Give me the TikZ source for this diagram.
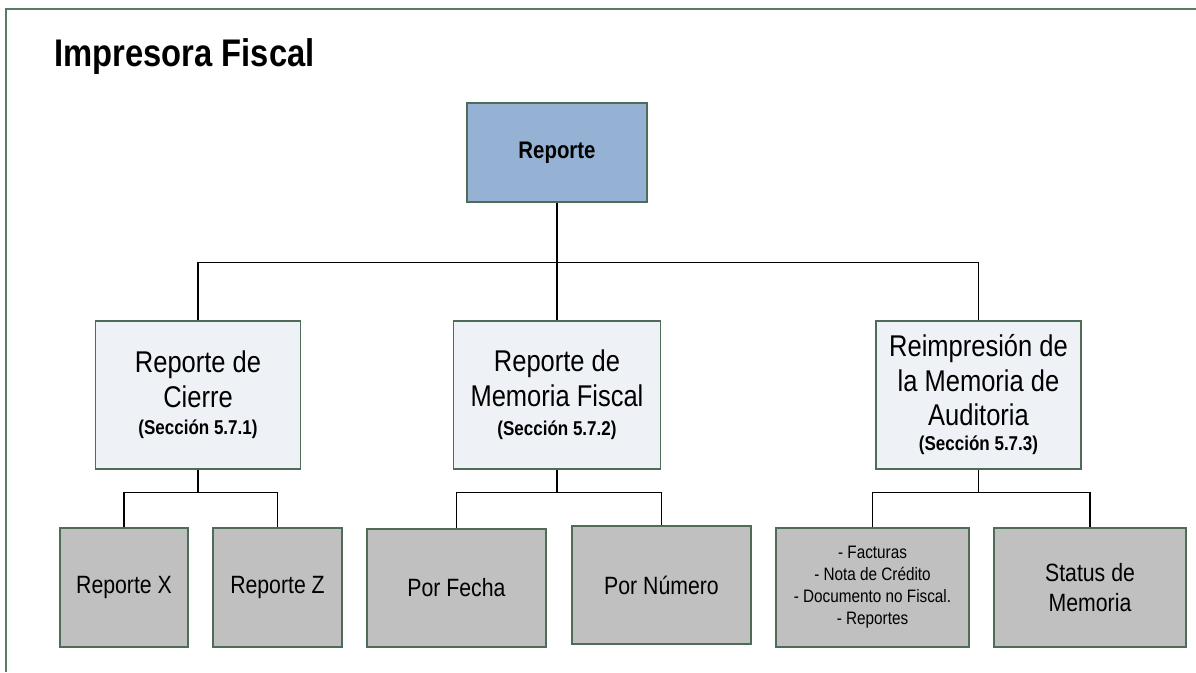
\documentclass[tikz,border=0pt]{standalone}
\usepackage{fontspec}
\setmainfont{Liberation Sans}[FakeStretch=0.85]
\usetikzlibrary{calc}

\definecolor{marco}{RGB}{90,122,100}
\definecolor{borde}{RGB}{78,108,88}
\definecolor{azulraiz}{RGB}{149,178,212}
\definecolor{grisclaro}{RGB}{238,241,246}
\definecolor{gris}{RGB}{192,192,192}

\tikzset{
  caja/.style={draw=borde, line width=1.3pt, align=center, inner sep=0pt, text=black},
  raiz/.style={caja, fill=azulraiz, minimum width=180pt, minimum height=99pt,
    font=\bfseries\fontsize{24}{28}\selectfont},
  seccion/.style={caja, fill=grisclaro, minimum width=205pt, minimum height=148pt,
    font=\fontsize{30}{35}\selectfont},
  hoja/.style={caja, fill=gris, minimum height=119pt,
    font=\fontsize{25}{30}\selectfont},
  rama/.style={draw=black, line width=1.2pt}
}
\newcommand{\secnum}[1]{{\bfseries\fontsize{20}{24}\selectfont (Sección #1)}}

\begin{document}
\begin{tikzpicture}[x=1pt,y=-1pt]
  \useasboundingbox (0,0) rectangle (1196,672);
  \draw[marco, line width=2pt] (1196,9) -- (6,9) -- (6,672);

  \node[anchor=base west, font=\bfseries\fontsize{38.5}{44}\selectfont] (titulo) at (51,66) {Impresora Fiscal};

  % nivel superior
  \node[raiz] (reporte) at (557,152.5) {Reporte};

  % secciones
  \node[seccion] (cierre) at (198,395) {Reporte de\\Cierre\\[-8pt]\secnum{5.7.1}};
  \node[seccion, minimum width=207pt] (memfiscal) at (557,395) {Reporte de\\Memoria Fiscal\\[-6pt]\secnum{5.7.2}};
  \node[seccion] (reimpresion) at (978.5,395) {Reimpresión de\\la Memoria de\\[-1pt]Auditoria\\[-10pt]\secnum{5.7.3}};

  % hojas
  \node[hoja, minimum width=128pt] (repx) at (124,587.5) {Reporte X};
  \node[hoja, minimum width=129pt] (repz) at (277.5,587.5) {Reporte Z};
  \node[hoja, minimum width=179pt, minimum height=118pt] (porfecha) at (456.5,588) {Por Fecha};
  \node[hoja, minimum width=179pt, minimum height=118pt] (pornumero) at (661.5,585) {Por Número};
  \node[hoja, minimum width=193pt, font=\fontsize{18}{22}\selectfont] (docs) at (872.5,587.5)
    {- Facturas\\- Nota de Crédito\\- Documento no Fiscal.\\- Reportes};
  \node[hoja, minimum width=192pt] (status) at (1090,587.5) {Status de\\Memoria};

  % conectores
  \draw[rama] (reporte.south) -- ++(0,60) coordinate (b0);
  \draw[rama] (cierre.north) |- (b0) -| (reimpresion.north);
  \draw[rama] (memfiscal.north) -- (b0);

  \draw[rama] (cierre.south) -- ++(0,23) coordinate (b1);
  \draw[rama] (repx.north) |- (b1) -| (repz.north);
  \draw[rama] (memfiscal.south) -- ++(0,23) coordinate (b2);
  \draw[rama] (porfecha.north) |- (b2) -| (pornumero.north);
  \draw[rama] (reimpresion.south) -- ++(0,23) coordinate (b3);
  \draw[rama] (docs.north) |- (b3) -| (status.north);
\end{tikzpicture}
\end{document}
